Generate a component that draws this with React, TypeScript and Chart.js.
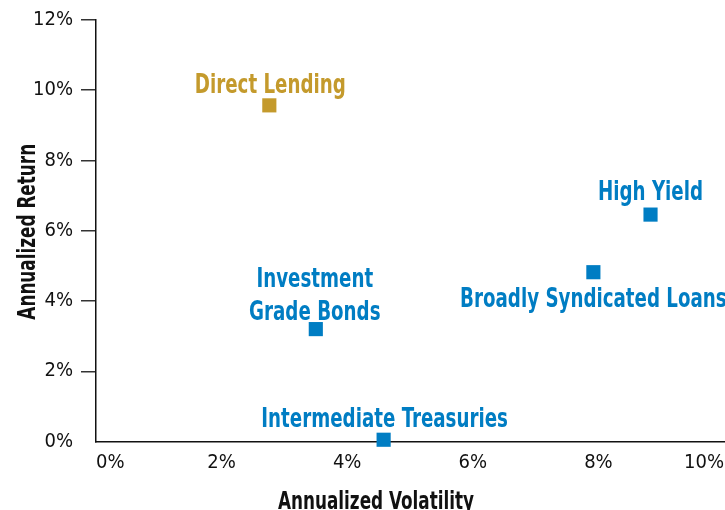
import React, { useEffect, useRef } from "react";
import { Chart, registerables } from "chart.js";

Chart.register(...registerables);

const FONT = "'Liberation Sans Narrow', 'DejaVu Sans Condensed', 'Roboto', sans-serif";

// ---- data ----
const categories = [
  "Direct Lending",
  "High Yield",
  "Broadly Syndicated Loans",
  "Investment Grade Bonds",
  "Intermediate Treasuries",
];
const volatility = [2.76, 8.83, 7.92, 3.5, 4.58];
const annualReturn = [9.57, 6.46, 4.82, 3.2, 0.05];
const labelLines = [
  ["Direct Lending"],
  ["High Yield"],
  ["Broadly Syndicated Loans"],
  ["Investment", "Grade Bonds"],
  ["Intermediate Treasuries"],
];
const xTickValues = [0, 2, 4, 6, 8, 10];
const yTickValues = [0, 2, 4, 6, 8, 10, 12];
const xTitle = "Annualized Volatility";
const yTitle = "Annualized Return";

// ---- styles ----
const GOLD = "#C49A2C";
const BLUE = "#007DC3";
const INK = "#111";
const pointColors = [GOLD, BLUE, BLUE, BLUE, BLUE];
const labelPlacement = [
  { dx: 1, dy: -12 },
  { dx: 0, dy: -15 },
  { dx: 0, dy: 35 },
  { dx: -1, dy: -42 },
  { dx: 1, dy: -13 },
];
const LINE_H = 32.5;
const SQUEEZE = 0.78;

function condensedText(
  ctx: CanvasRenderingContext2D,
  text: string,
  x: number,
  y: number,
  rotation = 0
) {
  ctx.save();
  ctx.translate(x, y);
  if (rotation) ctx.rotate(rotation);
  ctx.scale(SQUEEZE, 1);
  ctx.fillText(text, 0, 0);
  ctx.restore();
}

const pointLabelPlugin = {
  id: "pointLabels",
  afterDatasetsDraw(chart: any) {
    const ctx = chart.ctx;
    const meta = chart.getDatasetMeta(0);
    meta.data.forEach((el: any, i: number) => {
      const { x, y } = el.getProps(["x", "y"], true);
      const p = labelPlacement[i];
      ctx.save();
      ctx.font = `bold 26px ${FONT}`;
      ctx.fillStyle = pointColors[i];
      ctx.textAlign = "center";
      ctx.textBaseline = "alphabetic";
      labelLines[i].forEach((line, j) => {
        condensedText(ctx, line, x + p.dx, y + p.dy + j * LINE_H);
      });
      ctx.restore();
    });
  },
};

const axisTitlePlugin = {
  id: "axisTitles",
  afterDraw(chart: any) {
    const ctx = chart.ctx;
    const area = chart.chartArea;
    ctx.save();
    ctx.font = `bold 24px ${FONT}`;
    ctx.fillStyle = INK;
    ctx.textAlign = "center";
    ctx.textBaseline = "alphabetic";
    condensedText(ctx, xTitle, 376, 509);
    condensedText(ctx, yTitle, 35, (area.top + area.bottom) / 2 + 1, -Math.PI / 2);
    ctx.restore();
  },
};

export default function App() {
  const ref = useRef<HTMLCanvasElement | null>(null);

  useEffect(() => {
    if (!ref.current) return;
    const chart = new Chart(ref.current, {
      type: "scatter",
      data: {
        labels: categories,
        datasets: [
          {
            data: volatility.map((v, i) => ({ x: v, y: annualReturn[i] })),
            pointStyle: "rect",
            pointRadius: 10,
            pointHoverRadius: 10,
            pointBorderWidth: 0,
            pointBackgroundColor: pointColors,
            pointBorderColor: pointColors,
            clip: false,
          } as any,
        ],
      },
      options: {
        responsive: false,
        animation: false,
        layout: { autoPadding: false, padding: { top: 19, right: 1, left: 0, bottom: 0 } },
        plugins: {
          legend: { display: false },
          tooltip: { enabled: false },
        },
        scales: {
          x: {
            type: "linear",
            min: 0,
            max: 10,
            afterFit: (s: any) => {
              s.height = 68.5;
            },
            afterBuildTicks: (s: any) => {
              s.ticks = xTickValues.map((v) => ({ value: v }));
            },
            grid: {
              display: true,
              drawOnChartArea: false,
              drawTicks: true,
              tickLength: 9,
              color: "rgba(0,0,0,0)",
            },
            border: { display: true, color: INK, width: 1.5 },
            ticks: {
              align: "inner",
              padding: 0,
              color: INK,
              font: { family: FONT, size: 20 },
              callback: (v: any) => `${v}%`,
            },
          },
          y: {
            type: "linear",
            min: 0,
            max: 12,
            afterFit: (s: any) => {
              s.width = 96;
            },
            afterBuildTicks: (s: any) => {
              s.ticks = yTickValues.map((v) => ({ value: v }));
            },
            grid: {
              drawOnChartArea: false,
              drawTicks: true,
              tickLength: 15,
              lineWidth: 1.5,
              color: (c: any) => (c.tick && c.tick.value === 0 ? "rgba(0,0,0,0)" : "#333"),
            },
            border: { display: true, color: INK, width: 1.5 },
            ticks: {
              padding: 8,
              color: INK,
              font: { family: FONT, size: 20 },
              callback: (v: any) => `${v}%`,
            },
          },
        },
      },
      plugins: [pointLabelPlugin, axisTitlePlugin],
    });
    return () => chart.destroy();
  }, []);

  return (
    <canvas
      ref={ref}
      width={725}
      height={510}
      style={{ position: "fixed", left: 0, top: 0, width: 725, height: 510, background: "#fff" }}
    />
  );
}
